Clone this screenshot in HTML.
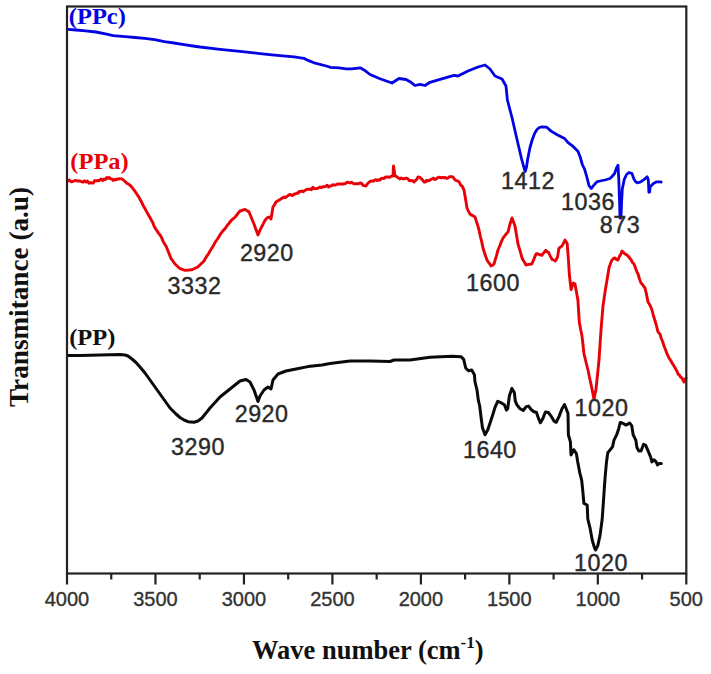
<!DOCTYPE html>
<html><head><meta charset="utf-8"><style>
html,body{margin:0;padding:0;background:#fff;}
body{width:711px;height:674px;overflow:hidden;}
svg{display:block;}
</style></head><body>
<svg width="711" height="674" viewBox="0 0 711 674">
<rect x="0" y="0" width="711" height="674" fill="#fff"/>
<g fill="none" stroke-linejoin="round" stroke-linecap="round">
<path d="M68.0,29.4 L76.0,30.0 L85.7,30.8 L96.0,32.0 L105.4,33.8 L113.2,35.7 L125.0,36.7 L135.0,37.5 L144.7,38.3 L154.6,39.7 L164.4,41.7 L174.0,43.0 L184.0,44.6 L193.0,46.0 L200.0,47.0 L220.0,49.4 L240.0,51.4 L260.0,53.6 L272.0,54.8 L280.0,55.6 L294.0,56.9 L303.9,58.3 L308.1,60.4 L315.2,63.2 L326.4,66.0 L330.6,67.4 L339.0,67.8 L346.1,68.8 L351.7,68.8 L360.2,67.8 L364.4,70.2 L370.0,74.5 L380.0,78.7 L392.0,83.0 L399.0,78.5 L406.0,79.5 L411.0,82.3 L415.0,85.5 L420.0,84.3 L425.0,85.5 L430.0,82.3 L440.0,79.3 L454.0,75.3 L458.0,76.0 L468.0,71.0 L478.0,67.0 L485.0,65.0 L490.0,69.0 L495.0,76.0 L502.0,79.0 L506.0,86.0 L507.4,100.0 L512.1,118.0 L516.9,139.0 L521.6,159.0 L523.5,166.0 L525.2,171.5 L526.5,167.0 L527.7,159.0 L530.0,147.5 L532.3,139.5 L534.7,133.2 L537.0,129.5 L539.4,127.5 L542.0,126.8 L546.7,127.2 L551.1,131.1 L556.7,134.5 L564.5,138.4 L567.8,142.3 L573.4,146.7 L577.9,151.2 L580.1,156.7 L582.3,164.5 L584.5,169.0 L586.8,176.8 L589.0,185.7 L591.2,188.5 L593.5,185.7 L596.8,181.8 L600.0,181.0 L605.0,180.0 L610.0,178.5 L612.0,176.5 L614.6,173.5 L616.6,167.7 L618.0,165.3 L618.8,180.0 L619.5,200.0 L620.0,218.0 L621.0,218.0 L621.6,202.0 L622.3,189.0 L624.3,179.3 L626.5,174.5 L629.0,172.5 L632.0,173.6 L633.9,179.0 L635.5,181.5 L637.0,182.8 L640.2,182.2 L644.0,179.6 L647.2,176.8 L648.3,180.0 L648.9,192.3 L649.6,192.0 L650.2,186.6 L651.6,185.3 L653.5,183.4 L656.6,181.8 L659.8,181.8 L661.1,182.0" stroke="#0303e4" stroke-width="2.8"/>
<path d="M68.0,181.0 L69.5,180.1 L71.0,181.8 L72.5,181.6 L74.0,181.0 L75.5,180.4 L77.0,181.0 L78.5,180.9 L80.0,181.0 L81.5,181.6 L83.0,182.2 L84.5,180.8 L86.0,182.0 L87.5,181.1 L89.0,183.3 L90.5,182.6 L92.0,183.0 L93.3,183.0 L94.7,180.5 L96.0,181.0 L97.3,180.5 L98.7,180.9 L100.0,180.0 L101.3,179.0 L102.7,180.4 L104.0,179.0 L105.3,179.7 L106.7,177.4 L108.0,178.3 L109.3,177.4 L110.7,178.9 L112.0,179.0 L113.3,180.4 L114.7,179.4 L116.0,180.0 L117.3,178.9 L118.7,179.0 L120.0,178.8 L122.0,178.9 L124.5,181.0 L127.0,183.4 L128.5,184.0 L130.1,185.4 L131.6,186.9 L133.3,189.1 L135.1,191.4 L136.6,193.8 L138.1,195.8 L139.6,198.5 L141.4,201.7 L143.2,205.6 L144.9,208.4 L146.7,211.9 L148.2,214.5 L149.7,217.0 L151.2,219.9 L152.7,222.3 L154.1,226.2 L155.6,228.8 L157.1,230.9 L158.5,233.1 L160.0,235.0 L161.5,237.4 L163.0,241.1 L164.5,243.7 L166.0,246.0 L171.0,258.4 L175.0,264.0 L179.5,268.3 L185.0,270.4 L192.0,269.7 L197.8,267.0 L204.0,261.0 L205.5,258.2 L207.0,255.9 L208.5,253.7 L210.0,251.0 L211.5,248.7 L213.0,246.3 L214.5,243.4 L216.0,241.0 L217.5,239.0 L219.0,236.6 L220.5,234.1 L222.0,232.0 L223.3,230.4 L224.7,229.0 L226.0,227.3 L227.3,225.3 L228.7,223.7 L230.0,222.0 L231.5,220.1 L233.0,218.8 L234.5,217.7 L236.0,216.0 L237.3,214.3 L238.7,212.4 L240.0,211.0 L241.7,210.5 L243.3,210.0 L245.0,209.3 L246.3,210.3 L247.7,211.0 L249.0,212.0 L250.7,216.0 L252.3,220.0 L254.0,224.0 L255.3,227.9 L256.7,231.4 L258.0,235.0 L259.5,231.4 L261.0,228.0 L262.7,225.0 L264.3,221.6 L266.0,219.0 L267.5,217.6 L269.0,217.0 L271.0,219.0 L273.0,207.0 L274.5,204.7 L276.0,202.0 L284.0,197.0 L285.4,197.7 L286.9,196.4 L288.3,195.5 L289.7,194.5 L291.1,194.9 L292.6,195.6 L294.0,194.0 L295.3,194.1 L296.7,193.1 L298.0,193.4 L299.3,191.4 L300.7,191.5 L302.0,191.0 L303.3,191.8 L304.7,190.5 L306.0,189.9 L307.3,189.1 L308.7,189.4 L310.0,189.0 L311.4,189.8 L312.9,187.2 L314.3,188.8 L315.7,188.6 L317.1,188.5 L318.6,187.9 L320.0,187.0 L321.4,187.6 L322.9,186.8 L324.3,186.7 L325.7,186.3 L327.1,185.2 L328.6,187.0 L330.0,186.0 L331.4,185.9 L332.9,184.7 L334.3,185.2 L335.7,184.8 L337.1,184.2 L338.6,183.9 L340.0,184.0 L341.4,183.9 L342.9,184.0 L344.3,183.8 L345.7,183.3 L347.1,182.2 L348.6,182.5 L350.0,183.0 L351.4,182.2 L352.9,183.2 L354.3,183.9 L355.7,183.7 L357.1,183.7 L358.6,183.8 L360.0,183.0 L361.5,183.2 L363.0,185.3 L364.5,185.7 L366.0,186.0 L367.5,183.7 L369.0,182.3 L370.5,181.1 L372.0,181.0 L373.3,181.4 L374.7,180.1 L376.0,179.6 L377.3,180.6 L378.7,179.8 L380.0,180.0 L381.3,178.5 L382.7,178.2 L384.0,178.6 L385.3,177.2 L386.7,177.0 L388.0,177.0 L389.7,177.2 L391.3,176.2 L393.0,176.0 L393.5,166.0 L395.0,176.0 L396.7,176.6 L398.3,177.9 L400.0,179.0 L401.3,177.9 L402.7,178.7 L404.0,178.8 L405.3,178.3 L406.7,178.1 L408.0,179.0 L409.5,180.7 L411.0,180.5 L412.5,180.6 L414.0,182.0 L415.3,180.6 L416.7,179.4 L418.0,177.0 L419.5,177.1 L421.0,178.3 L422.5,179.9 L424.0,182.0 L425.3,182.0 L426.7,180.2 L428.0,181.0 L429.3,180.4 L430.7,179.6 L432.0,179.0 L433.3,178.1 L434.7,179.6 L436.0,179.0 L437.3,178.0 L438.7,177.1 L440.0,177.5 L441.3,177.9 L442.7,177.4 L444.0,177.9 L445.3,177.4 L446.7,178.2 L448.0,178.0 L449.7,176.6 L451.3,176.8 L453.0,177.0 L454.7,179.5 L456.3,180.6 L458.0,181.0 L459.3,182.2 L460.7,185.2 L462.0,186.0 L464.0,190.0 L465.5,198.8 L467.0,208.0 L468.5,211.4 L470.0,214.0 L471.7,215.2 L473.3,215.9 L475.0,217.0 L476.3,221.1 L477.7,225.3 L479.0,230.0 L480.3,236.3 L481.7,241.6 L483.0,248.0 L484.3,252.3 L485.7,256.4 L487.0,260.0 L488.3,262.1 L489.7,263.7 L491.0,266.0 L492.5,265.3 L494.0,264.0 L495.3,259.7 L496.7,254.8 L498.0,250.0 L499.7,246.0 L501.3,241.9 L503.0,238.0 L504.7,235.9 L506.3,233.8 L508.0,232.0 L510.0,224.0 L512.0,218.0 L513.5,222.1 L515.0,226.0 L516.5,234.9 L518.0,244.0 L519.3,248.4 L520.7,253.0 L522.0,258.0 L523.3,260.5 L524.7,262.5 L526.0,265.0 L527.5,264.7 L528.9,264.3 L530.3,264.4 L531.8,263.8 L533.5,260.2 L535.1,256.0 L536.3,253.6 L537.6,253.7 L539.0,254.5 L540.5,254.7 L541.9,255.3 L543.8,252.7 L545.8,250.3 L547.2,251.8 L548.6,252.5 L550.3,256.1 L552.0,259.3 L553.7,260.0 L555.4,261.0 L557.6,257.0 L558.8,248.6 L560.5,247.0 L562.1,245.8 L563.5,243.1 L565.0,240.1 L567.2,243.5 L568.3,258.1 L569.4,275.0 L571.1,289.6 L573.4,283.0 L575.0,284.0 L576.5,292.3 L577.9,300.0 L579.3,322.0 L580.6,329.3 L582.0,336.0 L584.0,354.0 L585.3,359.2 L586.7,365.0 L588.0,370.0 L589.3,376.5 L590.7,382.7 L592.0,389.0 L594.0,399.5 L596.0,389.0 L597.5,374.9 L599.0,360.0 L601.0,330.0 L603.0,306.0 L604.5,295.6 L606.0,286.0 L607.5,277.3 L609.0,268.0 L610.5,263.4 L612.0,260.0 L613.5,258.5 L615.0,258.0 L616.5,259.6 L618.0,260.0 L619.3,256.6 L620.7,254.4 L622.0,251.0 L623.5,252.4 L625.0,254.0 L626.5,254.6 L628.0,256.0 L629.5,257.8 L631.0,259.7 L632.5,262.5 L634.0,264.0 L635.3,267.5 L636.7,271.3 L638.0,274.0 L639.5,279.0 L641.0,283.0 L642.3,284.2 L643.7,286.4 L645.0,288.0 L646.5,294.4 L648.0,302.0 L649.3,304.0 L650.7,306.7 L652.0,310.0 L653.3,315.2 L654.7,319.7 L656.0,324.0 L658.0,332.0 L660.0,334.0 L661.3,338.5 L662.7,341.8 L664.0,346.0 L665.7,350.2 L667.3,354.4 L669.0,358.0 L670.7,360.5 L672.3,363.4 L674.0,366.0 L675.3,368.3 L676.7,370.7 L678.0,374.0 L679.3,375.0 L680.7,377.2 L682.0,378.0 L684.0,382.0 L686.0,378.0" stroke="#e80208" stroke-width="2.9"/>
<path d="M68.0,355.5 L80.0,355.5 L100.0,355.0 L120.0,354.5 L125.0,355.0 L128.0,356.0 L132.0,359.0 L136.0,362.5 L140.0,367.0 L145.0,373.0 L150.0,380.0 L160.0,394.0 L170.0,408.0 L176.0,414.0 L180.0,417.5 L184.0,420.0 L188.0,421.7 L194.0,422.3 L198.0,421.0 L202.0,418.0 L210.0,408.0 L220.0,397.0 L230.0,389.0 L240.0,381.0 L246.0,379.5 L250.0,382.0 L254.0,390.0 L258.0,401.5 L260.0,396.0 L264.0,390.0 L268.0,387.0 L271.0,389.0 L273.0,380.0 L278.0,374.0 L286.0,371.0 L296.0,369.0 L308.0,366.6 L322.0,365.0 L330.0,363.5 L350.0,361.0 L370.0,361.0 L390.0,361.5 L394.0,360.0 L410.0,360.0 L430.0,357.3 L452.0,356.3 L461.0,356.7 L463.7,359.3 L465.7,368.0 L468.4,370.7 L471.7,370.0 L474.4,374.7 L475.0,382.0 L477.0,390.0 L478.4,400.7 L479.7,406.0 L481.0,416.8 L482.4,427.4 L485.0,434.8 L487.7,430.1 L490.4,422.1 L493.0,414.0 L495.0,407.4 L497.7,401.4 L501.0,402.7 L504.4,404.7 L506.4,410.1 L507.7,408.7 L509.4,395.7 L511.9,388.4 L514.4,392.8 L515.3,401.2 L516.8,404.6 L519.8,408.5 L523.2,410.5 L526.2,406.6 L528.6,406.1 L531.1,409.5 L533.5,411.5 L536.5,412.5 L538.5,418.4 L540.4,422.8 L542.9,418.4 L545.4,412.0 L548.3,412.5 L551.3,416.4 L554.2,421.3 L556.2,422.3 L559.1,416.4 L562.1,408.5 L564.5,404.6 L566.5,409.5 L568.0,413.5 L568.4,435.0 L570.4,441.7 L571.0,455.0 L573.7,449.7 L576.4,453.7 L577.7,461.8 L579.7,472.4 L581.7,480.4 L582.8,491.0 L583.9,503.4 L587.2,505.0 L587.8,519.0 L590.0,527.8 L592.2,540.0 L594.5,547.9 L595.6,550.0 L597.8,545.6 L600.0,535.6 L602.2,519.0 L603.4,502.2 L604.5,485.6 L605.3,475.0 L606.5,462.0 L607.8,452.6 L610.4,449.5 L612.5,446.9 L614.0,440.1 L616.6,434.9 L618.7,428.7 L620.2,422.5 L622.3,423.0 L626.0,425.1 L629.6,423.0 L631.7,425.6 L633.2,434.9 L635.8,440.1 L636.9,447.4 L638.9,451.0 L641.0,451.0 L643.6,444.3 L645.7,445.3 L648.8,452.6 L650.9,457.8 L651.9,461.9 L654.0,459.8 L656.1,461.9 L657.6,465.0 L659.2,463.5 L661.3,463.5" stroke="#0a0a0a" stroke-width="3"/>
</g>
<g stroke="#222" stroke-width="2.2" fill="none">
<rect x="67.0" y="6.5" width="619.30" height="567.00"/>
<line x1="67.00" y1="573.5" x2="67.00" y2="584.5"/><line x1="155.47" y1="573.5" x2="155.47" y2="584.5"/><line x1="243.94" y1="573.5" x2="243.94" y2="584.5"/><line x1="332.41" y1="573.5" x2="332.41" y2="584.5"/><line x1="420.89" y1="573.5" x2="420.89" y2="584.5"/><line x1="509.36" y1="573.5" x2="509.36" y2="584.5"/><line x1="597.83" y1="573.5" x2="597.83" y2="584.5"/><line x1="686.30" y1="573.5" x2="686.30" y2="584.5"/><line x1="111.24" y1="573.5" x2="111.24" y2="579.5"/><line x1="199.71" y1="573.5" x2="199.71" y2="579.5"/><line x1="288.18" y1="573.5" x2="288.18" y2="579.5"/><line x1="376.65" y1="573.5" x2="376.65" y2="579.5"/><line x1="465.12" y1="573.5" x2="465.12" y2="579.5"/><line x1="553.59" y1="573.5" x2="553.59" y2="579.5"/><line x1="642.06" y1="573.5" x2="642.06" y2="579.5"/>
</g>
<g font-family="'Liberation Sans', sans-serif" font-size="20" fill="#333" stroke="#333" stroke-width="0.35">
<text x="67.00" y="606" text-anchor="middle">4000</text><text x="155.47" y="606" text-anchor="middle">3500</text><text x="243.94" y="606" text-anchor="middle">3000</text><text x="332.41" y="606" text-anchor="middle">2500</text><text x="420.89" y="606" text-anchor="middle">2000</text><text x="509.36" y="606" text-anchor="middle">1500</text><text x="597.83" y="606" text-anchor="middle">1000</text><text x="686.30" y="606" text-anchor="middle">500</text>
</g>
<g font-family="'Liberation Sans', sans-serif" font-size="23.3" letter-spacing="0.5" fill="#2a2a2a" stroke="#2a2a2a" stroke-width="0.4">
<text x="194.5" y="294.3" text-anchor="middle">3332</text>
<text x="266.8" y="260.8" text-anchor="middle">2920</text>
<text x="493" y="290.6" text-anchor="middle">1600</text>
<text x="528" y="189.2" text-anchor="middle">1412</text>
<text x="588" y="210.4" text-anchor="middle">1036</text>
<text x="620" y="233" text-anchor="middle">873</text>
<text x="601.5" y="416.3" text-anchor="middle">1020</text>
<text x="198" y="454.6" text-anchor="middle">3290</text>
<text x="261.6" y="421.7" text-anchor="middle">2920</text>
<text x="489.9" y="458.4" text-anchor="middle">1640</text>
<text x="601" y="570.8" text-anchor="middle">1020</text>
</g>
<g font-family="'Liberation Serif', serif" font-weight="bold" font-size="23">
<text transform="translate(68.8,24.2) scale(1.065,1)" fill="#0303e4">(PPc)</text>
<text transform="translate(70.3,169.2) scale(1.065,1)" fill="#e80208">(PPa)</text>
<text transform="translate(69.2,345) scale(1.065,1)" fill="#111">(PP)</text>
</g>
<g font-family="'Liberation Serif', serif" font-weight="bold" font-size="26.5" fill="#111">
<text transform="translate(28.4,407) rotate(-90)" font-size="27.2">Transmitance (a.u)</text>
<text x="252" y="659.3">Wave number (cm<tspan font-size="17" dy="-11">-1</tspan><tspan dy="11">)</tspan></text>
</g>
</svg>
</body></html>
